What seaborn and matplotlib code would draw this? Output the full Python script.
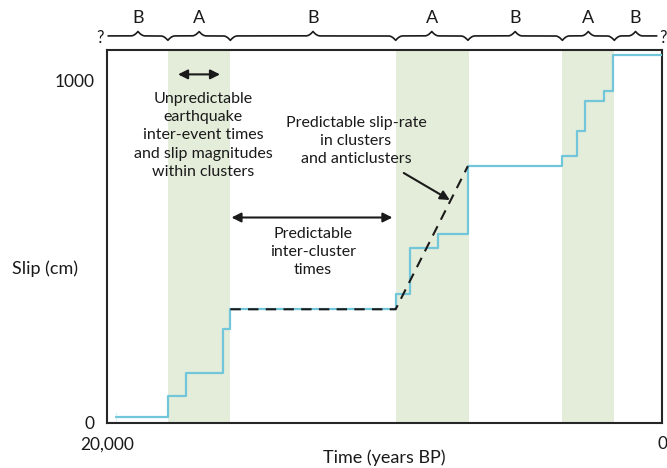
import numpy as np
import pandas as pd
import seaborn as sns
import matplotlib.pyplot as plt
import matplotlib.transforms as mtransforms

# Event times (years BP) and cumulative slip (cm) after each event
event_time = [19650, 17800, 17150, 15830, 15550, 9600, 9080, 8060, 7000,
              3600, 3070, 2770, 2110, 1775]
event_slip = [32, 78, 144, 273, 331, 376, 511, 550, 749,
              779, 852, 939, 968, 1073]

# Cluster (A) periods, years BP
cluster_start = [17800, 9600, 3600]
cluster_end = [15550, 6950, 1730]

# Long-term slip-rate trend through clusters / anticlusters
trend_time = [15550, 9600, 7000]
trend_slip = [331, 331, 749]

# Brace row along the top
period_labels = ["B", "A", "B", "A", "B", "A", "B"]
period_edges = [19950, 17800, 15550, 9600, 7000, 3600, 1730, 200]

x_ticks = [20000, 0]
x_ticklabels = ["20,000", "0"]
y_ticks = [0, 1000]

sns.set_theme(style="white")
plt.rcParams["font.family"] = ["Lato", "DejaVu Sans"]

fig = plt.figure(figsize=(6.67, 4.68), dpi=100)
ax = fig.add_axes([0.16, 0.097, 0.833, 0.796])

# shaded clusters
for s, e in zip(cluster_start, cluster_end):
    ax.axvspan(e, s, color="#e4edda", lw=0, zorder=0)

# slip history as a step curve
df = pd.DataFrame({"time": [event_time[0]] + event_time + [0],
                   "slip": [0] + event_slip + [event_slip[-1]]})
sns.lineplot(data=df, x="time", y="slip", sort=False, drawstyle="steps-post",
             color="#72c6da", lw=1.6, ax=ax, zorder=3)

# dashed trend line
ax.plot(trend_time, trend_slip, color="#1a1a1a", lw=1.5, ls=(0, (5, 3.5)), zorder=4)

ax.set_xlim(20000, 0)
ax.set_ylim(0, 1088)
ax.set_xticks(x_ticks)
ax.set_xticklabels(x_ticklabels)
ax.set_yticks(y_ticks)
ax.tick_params(length=0, labelsize=12.5, colors="#1a1a1a")
ax.tick_params(axis="x", pad=10)
ax.tick_params(axis="y", pad=9)
for sp in ax.spines.values():
    sp.set_color("#262626")
    sp.set_linewidth(1.5)

ax.set_xlabel("Time (years BP)", fontsize=13, color="#1a1a1a")
ax.xaxis.set_label_coords(0.5, -0.072)
ax.set_ylabel("Slip (cm)", fontsize=13, rotation=0, color="#1a1a1a",
              ha="center", va="center")
ax.yaxis.set_label_coords(-0.111, 0.412)

# annotations
txt = dict(fontsize=11.5, color="#1a1a1a", ha="center", va="center",
           linespacing=1.38)
arrow = dict(arrowstyle="<|-|>", color="#1a1a1a", lw=1.5, mutation_scale=14,
             shrinkA=0, shrinkB=0)
ax.annotate("", xy=(17433, 1017), xytext=(15921, 1017), arrowprops=arrow)
ax.text(16533, 839, "Unpredictable\nearthquake\ninter-event times\n"
        "and slip magnitudes\nwithin clusters", **txt)
ax.annotate("", xy=(15510, 599), xytext=(9715, 599), arrowprops=arrow)
ax.text(12575, 498, "Predictable\ninter-cluster\ntimes", **txt)
ax.text(11025, 822, "Predictable slip-rate\nin clusters\nand anticlusters", **txt)
ax.annotate("", xy=(7650, 650), xytext=(9307, 729),
            arrowprops=dict(arrowstyle="-|>", color="#1a1a1a", lw=1.5,
                            mutation_scale=14, shrinkA=0, shrinkB=0))

# curly-brace row above the axes
trans = mtransforms.blended_transform_factory(ax.transData, ax.transAxes)
base, h, w = 1.038, 0.012, 260
xs = np.linspace(period_edges[0], period_edges[-1], 3000)
ys = np.full_like(xs, base)
mids = [(a + b) / 2 for a, b in zip(period_edges[:-1], period_edges[1:])]
for c, d in [(m, 1) for m in mids] + [(e, -1) for e in period_edges[1:-1]]:
    r = np.abs(xs - c) / w
    m = r < 1
    ys[m] = base + d * h * (1 - r[m]) ** 2
ax.plot(xs, ys, color="#1a1a1a", lw=1.2, transform=trans, clip_on=False)
for m, lab in zip(mids, period_labels):
    ax.text(m, 1.086, lab, transform=trans, fontsize=13, ha="center",
            va="center", color="#1a1a1a")
ax.text(20250, base - 0.005, "?", transform=trans, fontsize=12, ha="center",
        va="center", color="#1a1a1a")
ax.text(-30, base - 0.005, "?", transform=trans, fontsize=12, ha="center",
        va="center", color="#1a1a1a")

fig.savefig("out.png", dpi=100)
